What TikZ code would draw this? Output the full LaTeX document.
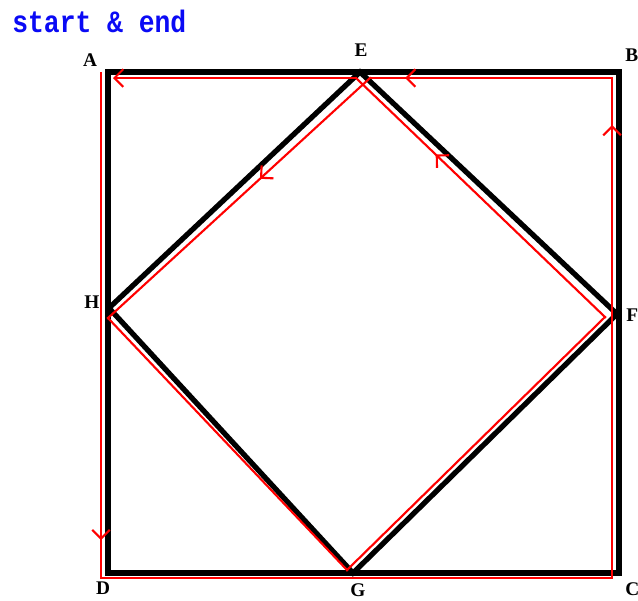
\documentclass[tikz,border=0pt]{standalone}
\usepackage{fontspec}
\setmainfont{Liberation Serif}
\setmonofont{Liberation Mono}
\usepackage{tikz}
\usetikzlibrary{arrows.meta, decorations.markings}
\definecolor{walkred}{HTML}{FF0000}
\definecolor{noteblue}{HTML}{0A0AF5}

\begin{document}
\begin{tikzpicture}[
  x=0.02cm, y=-0.02cm,
  edge/.style={draw=black, line width=3pt, line join=miter},
  walk/.style={draw=walkred, line width=1.2pt, line cap=rect},
  flowmark/.style={postaction={decorate}, decoration={markings, mark=at position #1 with {\arrow[walkred]{Straight Barb[length=5pt, width=10pt]}}}},
  vtx/.style={font=\bfseries\fontsize{11}{12}\selectfont, inner sep=0pt},
  note/.style={font=\ttfamily\bfseries\fontsize{14.7}{16}\selectfont, text=noteblue, inner sep=0pt}
]
\useasboundingbox (0,0) rectangle (638,600);

% square and diamond
\coordinate (A) at (108,72);
\coordinate (B) at (619,72);
\coordinate (C) at (619,573);
\coordinate (D) at (108,573);
\coordinate (E) at (360,72);
\coordinate (F) at (617,314);
\coordinate (G) at (353,573);
\coordinate (H) at (109,308);

\draw[edge] (A) -- (B) -- (C) -- (D) -- cycle;
\draw[edge] (E) -- (F) -- (G) -- (H) -- cycle;

% red walk
\coordinate (a0) at (101,73);
\coordinate (d1) at (101,578);
\coordinate (c1) at (612,578);
\coordinate (b1) at (612,78);
\coordinate (e1) at (370,78);
\coordinate (h1) at (108,318);
\coordinate (g1) at (347,570);
\coordinate (f1) at (605,317);
\coordinate (e2) at (356,78);
\coordinate (a1) at (113,78);

\draw[walk, flowmark=0.925] (a0) -- (d1);
\draw[walk] (d1) -- (c1);
\draw[walk, flowmark=0.906] (c1) -- (b1);
\draw[walk, flowmark=0.855] (b1) -- (e1);
\draw[walk, flowmark=0.42] (e1) -- (h1);
\draw[walk] (h1) -- (g1);
\draw[walk] (g1) -- (f1);
\draw[walk, flowmark=0.68] (f1) -- (e2);
\draw[walk, -{Straight Barb[length=5pt, width=10pt]}] (e2) -- (a1);

\node[vtx] (lA) at (90,60) {A};
\node[vtx, anchor=west] (lB) at (625,55) {B};
\node[vtx, anchor=west] (lC) at (625,589) {C};
\node[vtx] (lD) at (103,588) {D};
\node[vtx] (lE) at (361,50) {E};
\node[vtx, anchor=west] (lF) at (626,315) {F};
\node[vtx] (lG) at (358,590) {G};
\node[vtx] (lH) at (92,302) {H};

\node[note, anchor=base west] (title) at (12,32) {\scalebox{1.02}[1.2]{start \& end}};
\end{tikzpicture}
\end{document}
